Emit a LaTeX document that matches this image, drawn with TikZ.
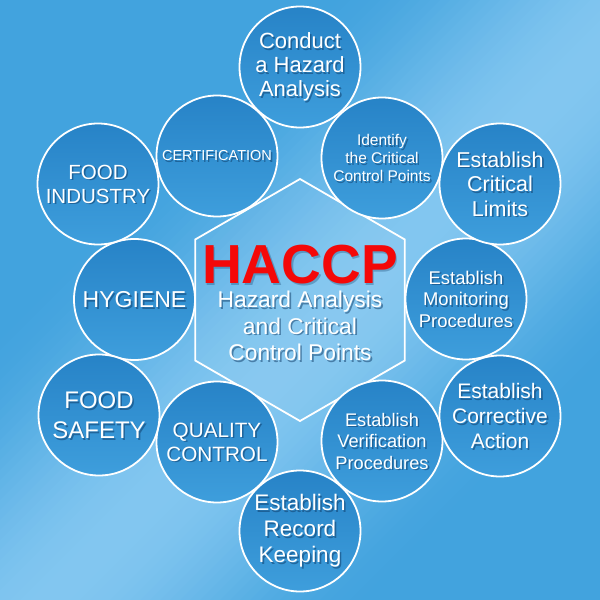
\documentclass[tikz,border=0pt]{standalone}
\usepackage{fontspec}
\setmainfont{Liberation Sans}
\definecolor{bgdark}{HTML}{42A3DE}
\definecolor{bglight}{HTML}{82C6F0}
\definecolor{bubtop}{HTML}{2783C7}
\definecolor{bubbot}{HTML}{3E9EDC}
\definecolor{shadowc}{HTML}{0B3763}
\definecolor{haccpred}{HTML}{F40808}
\newcommand\bubble[6]{%
  \node[bub] (#1) at (#2,#3) {};
  \node[shd, font={\fontsize{#4}{#5}\selectfont}] (#1s) at ([shift={(1.6,1.8)}]#1.center) {#6};
  \node[txt, font={\fontsize{#4}{#5}\selectfont}] (#1t) at (#1.center) {#6};
}
\begin{document}
\begin{tikzpicture}[x=1pt,y=-1pt,
  bub/.style={circle, draw=white, line width=1.8pt, top color=bubtop, bottom color=bubbot, minimum size=121pt, inner sep=0pt},
  txt/.style={align=center, text=white, inner sep=0pt},
  shd/.style={align=center, text=shadowc, text opacity=0.5, inner sep=0pt},
  hexline/.style={draw=white, line width=1.8pt, fill=white, fill opacity=0.05}
]
\useasboundingbox (0,0) rectangle (600,600);
\begin{scope}
  \clip (0,0) rectangle (600,600);
  \foreach \k in {0,...,119}{
    \pgfmathsetmacro{\sa}{10*\k}
    \pgfmathsetmacro{\sb}{10*\k+10.8}
    \pgfmathsetmacro{\bgdist}{min(1,abs(10*\k+5-650)/330)}
    \pgfmathsetmacro{\bgmix}{50*(1+cos(180*\bgdist))}
    \fill[bglight!\bgmix!bgdark] ({\sa/2+700},{\sa/2-700}) -- ({\sa/2-700},{\sa/2+700}) -- ({\sb/2-700},{\sb/2+700}) -- ({\sb/2+700},{\sb/2-700}) -- cycle;
  }
\end{scope}

% central hexagon
\coordinate (h1) at (300,179);
\coordinate (h2) at (404.8,239.5);
\coordinate (h3) at (404.8,360.5);
\coordinate (h4) at (300,421);
\coordinate (h5) at (195.2,360.5);
\coordinate (h6) at (195.2,239.5);
\path[hexline] (h1) -- (h2) -- (h3) -- (h4) -- (h5) -- (h6) -- cycle;

\node[inner sep=0pt, text=shadowc, text opacity=0.3, font={\fontsize{55}{55}\selectfont\bfseries}] (haccps) at (301.5,266.5) {HACCP};
\node[inner sep=0pt, text=haccpred, font={\fontsize{55}{55}\selectfont\bfseries}] (haccp) at (300,265) {HACCP};
\node[shd, font={\fontsize{22.8}{26.5}\selectfont}] (subs) at (301.6,327.8) {Hazard Analysis\\and Critical\\Control Points};
\node[txt, font={\fontsize{22.8}{26.5}\selectfont}] (sub) at (300,326) {Hazard Analysis\\and Critical\\Control Points};

% inner bubbles
\bubble{cert}{217}{156}{14.5}{17}{CERTIFICATION}
\bubble{ident}{382}{158}{15.5}{18}{Identify\\the Critical\\Control Points}
\bubble{qual}{217}{442}{20.7}{24}{QUALITY\\CONTROL}
\bubble{verif}{382}{441}{18.2}{21.5}{Establish\\Verification\\Procedures}
\bubble{hyg}{134.5}{299.5}{23}{26}{HYGIENE}
\bubble{monit}{466}{299}{18.4}{21.5}{Establish\\Monitoring\\Procedures}
% outer bubbles
\bubble{findus}{98}{184}{20.5}{24}{FOOD\\INDUSTRY}
\bubble{limits}{500}{184}{21.5}{24.5}{Establish\\Critical\\Limits}
\bubble{fsafe}{99}{415}{24}{30}{FOOD\\SAFETY}
\bubble{corr}{500}{416}{21}{25}{Establish\\Corrective\\Action}
\bubble{conduct}{300}{67}{22}{24}{Conduct\\a Hazard\\Analysis}
\bubble{record}{300}{531}{22.5}{26}{Establish\\Record\\Keeping}
\end{tikzpicture}
\end{document}
